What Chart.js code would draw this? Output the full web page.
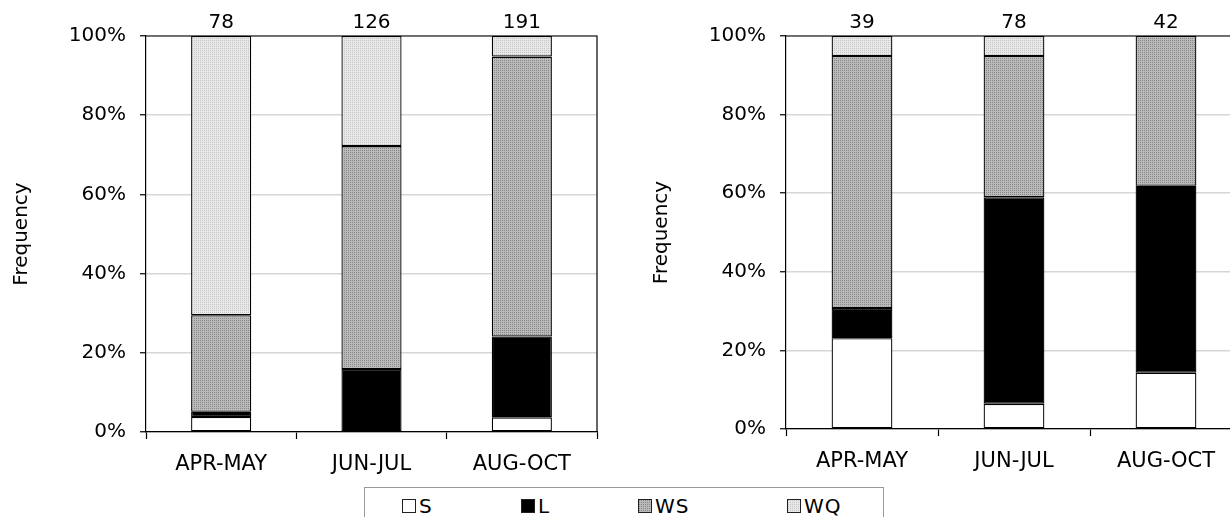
<!DOCTYPE html>
<html>
<head>
<meta charset="utf-8">
<script src="https://cdn.jsdelivr.net/npm/chart.js@4.4.1/dist/chart.umd.min.js"></script>
<style>
html,body{margin:0;padding:0;background:#fff;overflow:hidden;width:1230px;height:517px;}
#c1{position:absolute;left:0;top:0;}
#c2{position:absolute;left:640px;top:0;}
#legend{position:absolute;left:364px;top:487px;width:518px;height:40px;border:1px solid #999;background:#fff;font-family:"DejaVu Sans",sans-serif;font-size:20px;color:#000;}
.item{position:absolute;top:6px;display:flex;align-items:center;letter-spacing:1px;}
.sw{width:12px;height:12px;border:1px solid #222;margin-right:3px;}
</style>
</head>
<body>
<canvas id="c1" width="615" height="485" style="width:615px;height:485px"></canvas>
<canvas id="c2" width="640" height="485" style="width:640px;height:485px"></canvas>
<div id="legend"></div>
<script>
// ---- data ----
const categories = ['APR-MAY', 'JUN-JUL', 'AUG-OCT'];
const seriesNames = ['S', 'L', 'WS', 'WQ'];
const yTicks = [0, 20, 40, 60, 80, 100];

const leftCounts = [78, 126, 191];
const leftS  = [3.8, 0, 3.7];
const leftL  = [1.3, 15.9, 20.4];
const leftWS = [24.4, 56.3, 70.7];
const leftWQ = [70.5, 27.8, 5.2];

const rightCounts = [39, 78, 42];
const rightS  = [23.1, 6.4, 14.3];
const rightL  = [7.7, 52.6, 47.6];
const rightWS = [64.1, 35.9, 38.1];
const rightWQ = [5.1, 5.1, 0];

// ---- patterns ----
function makePatternCanvas(base, dot) {
  const c = document.createElement('canvas');
  c.width = 4; c.height = 4;
  const g = c.getContext('2d');
  g.fillStyle = base; g.fillRect(0, 0, 4, 4);
  g.fillStyle = dot;
  g.fillRect(0, 0, 1, 1); g.fillRect(2, 2, 1, 1);
  g.fillRect(2, 0, 1, 1); g.fillRect(0, 2, 1, 1);
  return c;
}
const wsCanvas = makePatternCanvas('#bababa', '#888888');
const wqCanvas = makePatternCanvas('#e8e8e8', '#c6c6c6');
const pctx = document.createElement('canvas').getContext('2d');
const wsPattern = pctx.createPattern(wsCanvas, 'repeat');
const wqPattern = pctx.createPattern(wqCanvas, 'repeat');
const fills = ['#ffffff', '#000000', wsPattern, wqPattern];

const FONT = '"DejaVu Sans", sans-serif';

const framePlugin = {
  id: 'frame',
  afterDatasetsDraw(chart, args, opts) {
    const ca = chart.chartArea, c = chart.ctx;
    c.save();
    c.strokeStyle = '#000'; c.lineWidth = 1.2;
    c.beginPath();
    c.moveTo(ca.left, ca.top); c.lineTo(ca.right, ca.top);
    c.lineTo(ca.right, ca.bottom);
    c.stroke();
    // counts
    c.fillStyle = '#000';
    c.font = '20px ' + FONT;
    c.textAlign = 'center'; c.textBaseline = 'middle';
    const xs = chart.scales.x;
    (opts.counts || []).forEach((n, i) => {
      c.fillText(String(n), xs.getPixelForValue(i), ca.top - 13);
    });
    c.restore();
  }
};

function build(id, S, L, WS, WQ, counts, rightPad, xHeight) {
  const data = [S, L, WS, WQ];
  return new Chart(document.getElementById(id), {
    type: 'bar',
    data: {
      labels: categories,
      datasets: seriesNames.map((n, i) => ({
        label: n,
        data: data[i],
        backgroundColor: fills[i],
        borderColor: '#000',
        borderWidth: 1.3,
        barPercentage: 0.4,
        categoryPercentage: 1.0,
        borderSkipped: false
      }))
    },
    options: {
      responsive: false,
      animation: false,
      devicePixelRatio: 1,
      layout: { padding: { top: 36, right: rightPad, left: 0, bottom: 0 } },
      plugins: { legend: { display: false }, tooltip: { enabled: false }, frame: { counts: counts } },
      scales: {
        x: {
          stacked: true,
          grid: { display: true, drawOnChartArea: false, offset: true, color: '#000', tickLength: 7, tickWidth: 1.2 },
          border: { color: '#000', width: 1.2 },
          ticks: { color: '#000', font: { family: FONT, size: 21 }, padding: 13, maxRotation: 0 },
          afterFit(s) { s.height = xHeight; }
        },
        y: {
          stacked: true,
          min: 0, max: 100,
          afterBuildTicks(s) { s.ticks = yTicks.map(v => ({ value: v })); },
          grid: { color: '#d6d6d6', lineWidth: 1.5, tickColor: '#000', tickLength: 6, tickWidth: 1.2 },
          border: { color: '#000', width: 1.2 },
          ticks: { color: '#000', font: { family: FONT, size: 20 }, padding: 14, callback: v => v + '%' },
          title: { display: true, text: 'Frequency', color: '#000', font: { family: FONT, size: 20 }, padding: { top: 10, bottom: 0 } },
          afterFit(s) { s.width = 146; }
        }
      }
    },
    plugins: [framePlugin]
  });
}

build('c1', leftS, leftL, leftWS, leftWQ, leftCounts, 18, 485 - 432);
build('c2', rightS, rightL, rightWS, rightWQ, rightCounts, 38, 485 - 429);

// legend
const lg = document.getElementById('legend');
const swBg = ['#fff', '#000', 'url(' + wsCanvas.toDataURL() + ')', 'url(' + wqCanvas.toDataURL() + ')'];
const lefts = [37, 156, 273, 422];
seriesNames.forEach((n, i) => {
  const d = document.createElement('div');
  d.className = 'item';
  d.style.left = lefts[i] + 'px';
  const s = document.createElement('div');
  s.className = 'sw';
  s.style.background = swBg[i];
  const t = document.createElement('span');
  t.textContent = n;
  d.appendChild(s); d.appendChild(t);
  lg.appendChild(d);
});
</script>
</body>
</html>
